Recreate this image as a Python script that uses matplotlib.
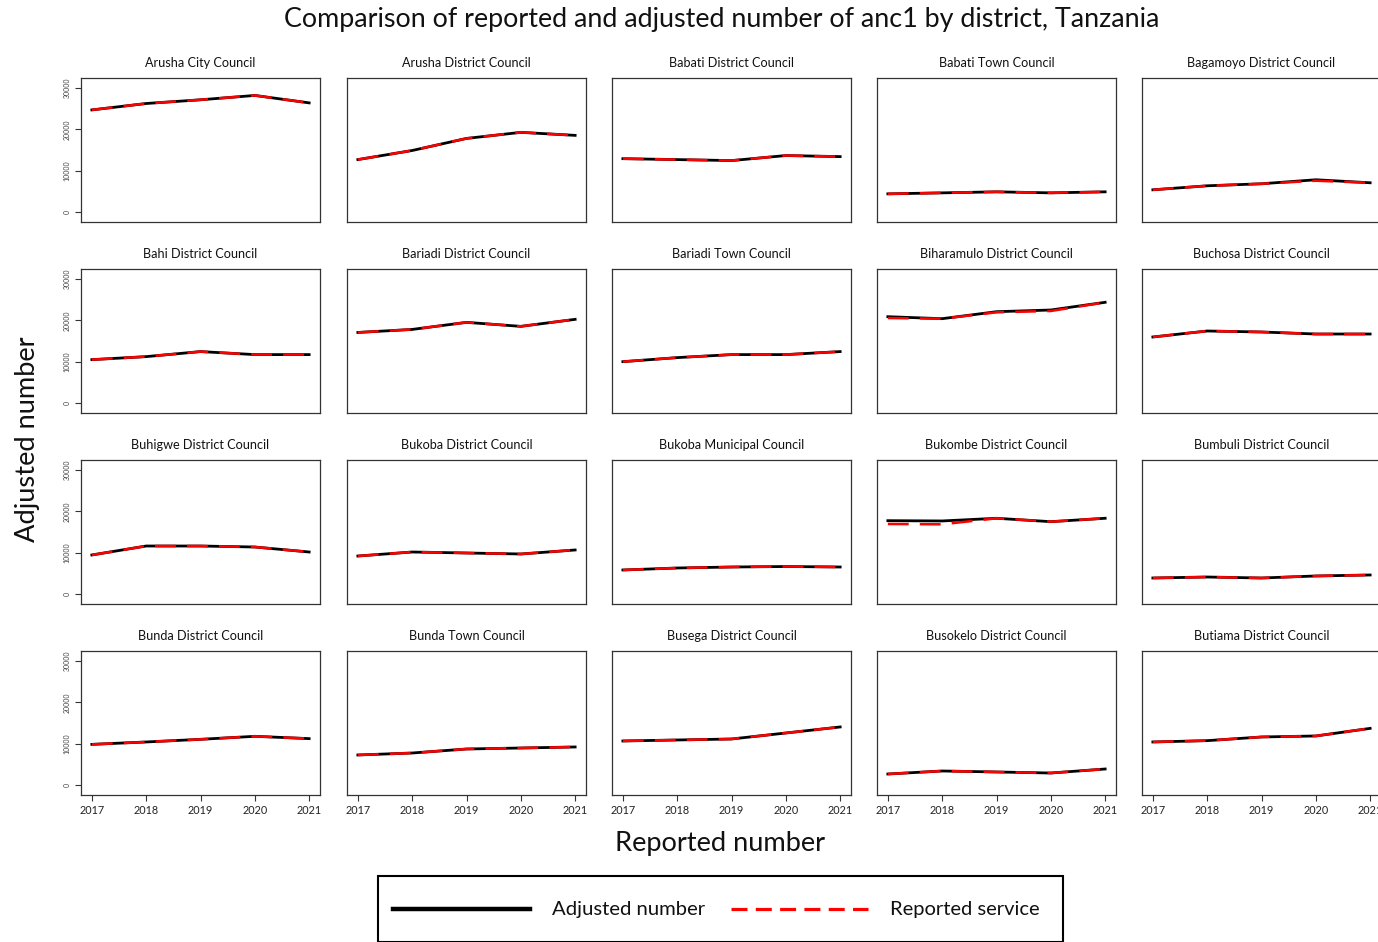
import matplotlib
matplotlib.use("Agg")
import matplotlib.pyplot as plt
from matplotlib.lines import Line2D
from matplotlib.patches import Rectangle

plt.rcParams['font.family'] = ['Lato', 'DejaVu Sans']
plt.rcParams['lines.scale_dashes'] = False

years = [2017, 2018, 2019, 2020, 2021]

districts = [
    "Arusha City Council", "Arusha District Council", "Babati District Council",
    "Babati Town Council", "Bagamoyo District Council",
    "Bahi District Council", "Bariadi District Council", "Bariadi Town Council",
    "Biharamulo District Council", "Buchosa District Council",
    "Buhigwe District Council", "Bukoba District Council", "Bukoba Municipal Council",
    "Bukombe District Council", "Bumbuli District Council",
    "Bunda District Council", "Bunda Town Council", "Busega District Council",
    "Busokelo District Council", "Butiama District Council",
]

adjusted = [
    [24700, 26250, 27150, 28200, 26400],
    [12680, 14880, 17800, 19270, 18540],
    [12900, 12680, 12440, 13660, 13400],
    [4390, 4630, 4880, 4630, 4880],
    [5370, 6340, 6830, 7800, 7070],
    [10490, 11220, 12440, 11710, 11710],
    [17070, 17800, 19510, 18540, 20240],
    [10000, 10980, 11710, 11710, 12440],
    [20880, 20400, 22090, 22500, 24360],
    [15970, 17420, 17180, 16690, 16690],
    [9440, 11610, 11610, 11370, 10160],
    [9190, 10160, 9920, 9680, 10650],
    [5810, 6290, 6530, 6650, 6530],
    [17740, 17670, 18320, 17500, 18320],
    [3870, 4110, 3870, 4360, 4600],
    [9830, 10410, 11050, 11780, 11220],
    [7260, 7740, 8710, 8950, 9200],
    [10650, 10890, 11130, 12580, 14040],
    [2660, 3390, 3150, 2900, 3870],
    [10410, 10730, 11620, 11860, 13700],
]

reported = [
    [24700, 26250, 27150, 28200, 26400],
    [12680, 14880, 17800, 19270, 18540],
    [12900, 12680, 12440, 13660, 13400],
    [4390, 4630, 4880, 4630, 4880],
    [5370, 6340, 6830, 7560, 7070],
    [10490, 11220, 12440, 11710, 11710],
    [17070, 17800, 19510, 18540, 20240],
    [10000, 10980, 11710, 11710, 12440],
    [20560, 20400, 21940, 22260, 24360],
    [15970, 17420, 17180, 16690, 16690],
    [9440, 11610, 11610, 11370, 10160],
    [9190, 10160, 9920, 9680, 10650],
    [5810, 6290, 6530, 6650, 6530],
    [16940, 16860, 18320, 17500, 18320],
    [3870, 4110, 3870, 4360, 4600],
    [9830, 10410, 11050, 11780, 11220],
    [7260, 7740, 8710, 8950, 9200],
    [10650, 10890, 11130, 12580, 14040],
    [2660, 3390, 3150, 2900, 3870],
    [10410, 10730, 11620, 11860, 13700],
]

y_ticks = [0, 10000, 20000, 30000]

W, H = 1378, 942
fig = plt.figure(figsize=(W / 100, H / 100), dpi=100)

col_left = [81, 347, 612, 877, 1142]
row_top = [78, 269, 460, 651]
pw, ph = 239, 144

for i, name in enumerate(districts):
    r, c = divmod(i, 5)
    ax = fig.add_axes([col_left[c] / W, 1 - (row_top[r] + ph) / H, pw / W, ph / H])
    ax.plot(years, adjusted[i], color='black', lw=2.0, solid_joinstyle='round')
    ax.plot(years, reported[i], color='#ff0000', lw=1.8, dashes=(15, 8))
    ax.set_xlim(2016.8, 2021.2)
    ax.set_ylim(-2420, 32420)
    for sp in ax.spines.values():
        sp.set_linewidth(0.9)
        sp.set_color('#333333')
    ax.set_title(name, fontsize=9.1, pad=8, color='#111111')
    ax.tick_params(direction='out', length=4.5, width=0.8, color='#333333')
    if c == 0:
        ax.set_yticks(y_ticks)
        ax.set_yticklabels([str(v) for v in y_ticks], rotation=90, fontsize=5,
                           va='center', color='#444444')
        ax.tick_params(axis='y', pad=3)
    else:
        ax.set_yticks([])
    if r == 3:
        ax.set_xticks(years)
        ax.set_xticklabels([str(y) for y in years], fontsize=7.8, color='#222222')
        ax.tick_params(axis='x', pad=3)
    else:
        ax.set_xticks([])

fig.text(722 / W, 1 - 19 / H,
         "Comparison of reported and adjusted number of anc1 by district, Tanzania",
         ha='center', va='center', fontsize=19.4, color='#111111')
fig.text(28 / W, 1 - 439 / H, "Adjusted number", rotation=90,
         ha='center', va='center', fontsize=19.6, color='#111111')
fig.text(720 / W, 1 - 843 / H, "Reported number",
         ha='center', va='center', fontsize=19.6, color='#111111')

# legend box
fig.patches.append(Rectangle((378 / W, 1 - 942 / H), (1063 - 378) / W, (942 - 876) / H,
                             transform=fig.transFigure, fill=False,
                             edgecolor='black', lw=1.5))
ly = 1 - 909 / H
fig.lines.append(Line2D([393 / W, 530 / W], [ly, ly], transform=fig.transFigure,
                        color='black', lw=3.2))
fig.lines.append(Line2D([731 / W, 868 / W], [ly, ly], transform=fig.transFigure,
                        color='#ff0000', lw=2.3, dashes=(11.5, 6)))
fig.text(552 / W, ly, "Adjusted number", ha='left', va='center',
         fontsize=14.6, color='#111111')
fig.text(890 / W, ly, "Reported service", ha='left', va='center',
         fontsize=14.5, color='#111111')

fig.savefig("out.png", dpi=100)
